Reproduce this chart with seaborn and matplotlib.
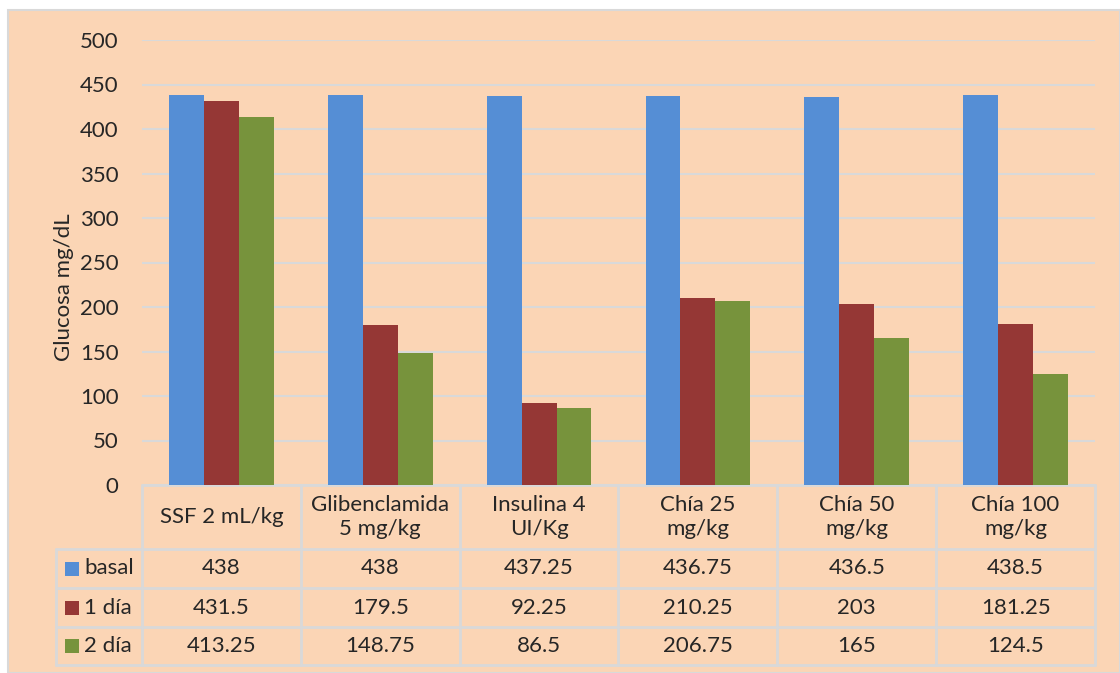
import numpy as np
import pandas as pd
import seaborn as sns
import matplotlib.pyplot as plt
import matplotlib.transforms as mtransforms
from matplotlib.patches import Rectangle
from matplotlib.lines import Line2D

grupos = ["SSF 2 mL/kg", "Glibenclamida\n5 mg/kg", "Insulina 4\nUI/Kg",
          "Chía 25\nmg/kg", "Chía 50\nmg/kg", "Chía 100\nmg/kg"]
tiempos = ["basal", "1 día", "2 día"]
basal = [438, 438, 437.25, 436.75, 436.5, 438.5]
dia1 = [431.5, 179.5, 92.25, 210.25, 203, 181.25]
dia2 = [413.25, 148.75, 86.5, 206.75, 165, 124.5]
colores = ["#558ED5", "#953735", "#77933C"]
y_ticks = [0, 50, 100, 150, 200, 250, 300, 350, 400, 450, 500]

series = [basal, dia1, dia2]
data = pd.DataFrame({
    "Grupo": np.tile(grupos, 3),
    "Tiempo": np.repeat(tiempos, len(grupos)),
    "Glucosa": np.concatenate(series),
})

sns.set_style("white")
plt.rcParams["font.family"] = ["Lato", "DejaVu Sans"]
fs = 16

W, H = 1120, 673
fig = plt.figure(figsize=(W / 100, H / 100), dpi=100)
fig.patch.set_facecolor("white")

def fx(x):
    return x / W

def fy(y):
    return 1 - y / H

bg = "#FBD5B5"
line_c = "#D9D9D9"
fig.patches.append(Rectangle((fx(8), 0), 1 - fx(8), fy(10), transform=fig.transFigure,
                             facecolor=bg, edgecolor=line_c, lw=1.5, zorder=-5))

ax = fig.add_axes([fx(142), fy(485), fx(1095) - fx(142), fy(40) - fy(485)])
ax.set_facecolor("none")
ax.set_zorder(2)

sns.barplot(data=data, x="Grupo", y="Glucosa", hue="Tiempo", palette=colores,
            width=0.66, gap=0, saturation=1, legend=False, ax=ax, linewidth=0)

ax.set_xlim(-0.5, len(grupos) - 0.5)
ax.set_ylim(0, 500)
ax.set_yticks(y_ticks)
ax.set_yticklabels([str(t) for t in y_ticks], fontsize=fs)
ax.tick_params(axis="y", length=0, pad=17)
ax.set_xticks([])
ax.set_xlabel("")
ax.set_ylabel("")
ax.yaxis.grid(True, color=line_c, lw=1.5)
ax.set_axisbelow(True)
for s in ax.spines.values():
    s.set_visible(False)

fig.text(fx(64), fy(287), "Glucosa mg/dL", rotation=90, ha="center", va="center", fontsize=fs)

# data table under the chart
trans = mtransforms.blended_transform_factory(ax.transData, fig.transFigure)
rows_y = [485, 549, 588, 627, 665]
x_edges = np.arange(len(grupos) + 1) - 0.5
lw_t = 2
for xe in x_edges:
    fig.add_artist(Line2D([xe, xe], [fy(485), fy(665)], transform=trans, color=line_c, lw=lw_t))
fig.add_artist(Line2D([fx(56), fx(56)], [fy(549), fy(665)], transform=fig.transFigure,
                      color=line_c, lw=lw_t))
for i, ry in enumerate(rows_y):
    fig.add_artist(Line2D([x_edges[0], x_edges[-1]], [fy(ry), fy(ry)], transform=trans,
                          color=line_c, lw=lw_t))
    if i >= 1:
        fig.add_artist(Line2D([fx(56), fx(142)], [fy(ry), fy(ry)], transform=fig.transFigure,
                              color=line_c, lw=lw_t))

for j, g in enumerate(grupos):
    fig.text(j, fy(517), g, transform=trans, ha="center", va="center", fontsize=fs,
             linespacing=1.3)

for r, (nombre, vals, c) in enumerate(zip(tiempos, series, colores)):
    yc = fy((rows_y[r + 1] + rows_y[r + 2]) / 2)
    fig.patches.append(Rectangle((fx(65), yc - 7 / H), 14 / W, 14 / H, transform=fig.transFigure,
                                 facecolor=c, edgecolor="none"))
    fig.text(fx(84), yc, nombre, ha="left", va="center", fontsize=fs)
    for j, v in enumerate(vals):
        fig.text(j, yc, f"{v:g}", transform=trans, ha="center", va="center", fontsize=fs)

fig.savefig("out.png", dpi=100, facecolor=fig.get_facecolor())
